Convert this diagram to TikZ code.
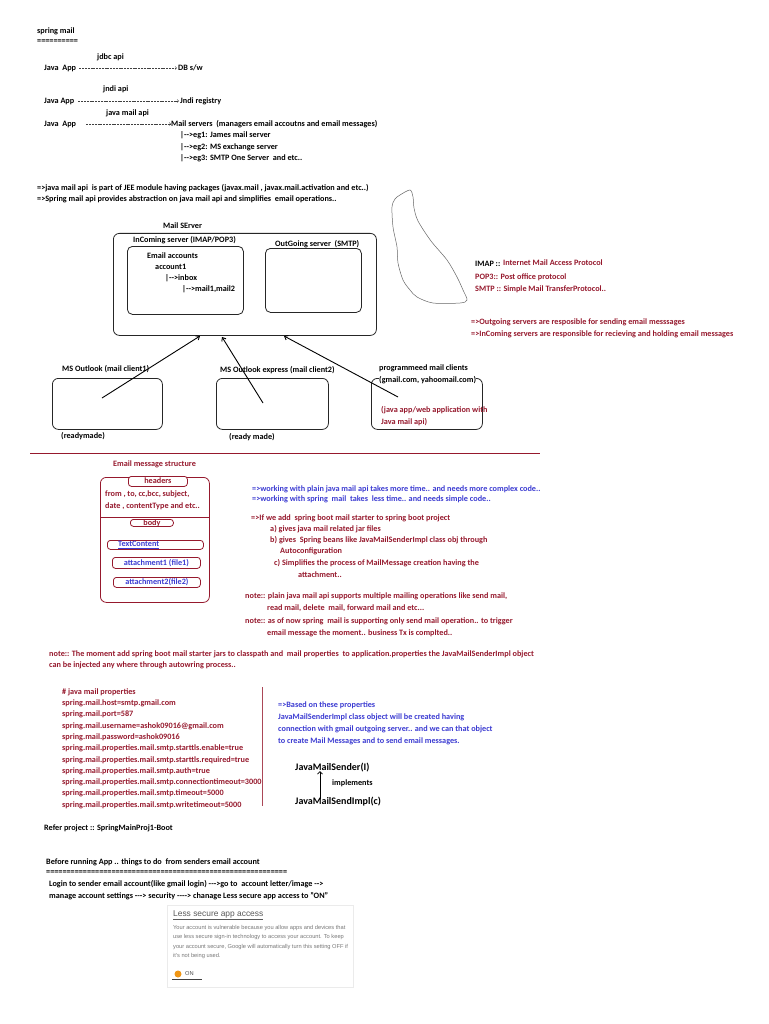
\documentclass[tikz,border=0pt]{standalone}
\usepackage{fontspec}
\setmainfont{Carlito}
\newfontfamily\uifont{Liberation Sans}
\usetikzlibrary{arrows.meta}
\definecolor{mred}{RGB}{150,25,45}
\definecolor{mblue}{RGB}{60,60,210}
\definecolor{mgray}{RGB}{120,120,120}
\definecolor{morange}{RGB}{240,150,20}
\begin{document}
\begin{tikzpicture}[x=1pt,y=-1pt,
  t/.style={anchor=west,inner sep=0pt,text height=6pt,text depth=1.8pt,font=\fontsize{8.2}{9}\selectfont\bfseries,text=black},
  r/.style={t,text=mred},
  b/.style={t,text=mblue},
  pr/.style={r},
  bp/.style={b},
  big/.style={t,font=\fontsize{10}{11}\selectfont\bfseries},
  box/.style={draw=black!85,line width=0.8pt,rounded corners=6pt,anchor=north west,inner sep=0pt},
  rbox/.style={draw=mred,line width=0.8pt,rounded corners=3pt,anchor=north west,inner sep=0pt,fill=white},
  dl/.style={draw=black!75,line width=0.45pt,dash pattern=on 2pt off 0.8pt,-{Straight Barb[length=1.6pt,width=3pt]}},
  arr/.style={draw=black,line width=0.9pt,-{Straight Barb[length=3pt,width=5pt]}},
  ui/.style={anchor=west,inner sep=0pt,font=\uifont\fontsize{5.7}{6}\selectfont,text=mgray}
]
\useasboundingbox (0,0) rectangle (768,1024);
\fill[white] (0,0) rectangle (768,1024);

% ---- top section
\node[t] (title) at (37,31) {spring mail};
\node[t] (titleu) at (37,41) {==========};
\node[t] (jdbc) at (97,57) {jdbc api};
\node[t] (ja1) at (44,68) {Java\ \ App};
\node[t] (db) at (178,68) {DB s/w};
\draw[dl] ([xshift=3pt]ja1.east) -- ([xshift=-1pt]ja1.east -| db.west);
\node[t] (jndi) at (103,89) {jndi api};
\node[t] (ja2) at (44,101) {Java App};
\node[t] (jr) at (180,101) {Jndi registry};
\draw[dl] ([xshift=4pt]ja2.east) -- ([xshift=-1pt]ja2.east -| jr.west);
\node[t] (jm) at (106,113) {java mail api};
\node[t] (ja3) at (44,124) {Java\ \ App};
\node[t] (ms) at (171,124) {Mail servers\ \ (managers email accoutns and email messages)};
\draw[dl] ([xshift=10pt]ja3.east) -- (ja3.east -| ms.west);
\node[t] (eg1) at (180,135) {|-{}->eg1: James mail server};
\node[t] (eg2) at (180,147) {|-{}->eg2: MS exchange server};
\node[t] (eg3) at (180,158) {|-{}->eg3: SMTP One Server\ \ and etc..};

\node[t] (p1) at (37,188) {=>java mail api\ \ is part of JEE module having packages (javax.mail , javax.mail.activation and etc..)};
\node[t] (p2) at (37,199) {=>Spring mail api provides abstraction on java mail api and simplifies\ \ email operations..};

% ---- mail server
\node[t] (mslabel) at (163,226) {Mail SErver};
\node[box,minimum width=263pt,minimum height=102pt] (server) at (113,233) {};
\node[t] (inl) at (133,240) {InComing server (IMAP/POP3)};
\node[box,minimum width=116pt,minimum height=68pt,rounded corners=5pt] (inbox) at (127,246) {};
\node[t] (ea) at (147,256) {Email accounts};
\node[t] (ac1) at (155,267) {account1};
\node[t] (ibx) at (165,278) {|-{}->inbox};
\node[t] (mls) at (182,289) {|-{}->mail1,mail2};
\node[t] (outl) at (275,244) {OutGoing server\ \ (SMTP)};
\node[box,minimum width=96pt,minimum height=64pt,rounded corners=5pt] (outbox) at (265,248) {};

% ---- blob
\draw[black!60,line width=0.5pt] plot[smooth cycle,tension=0.5] coordinates {(400,195) (410,190) (413,197) (414,208) (418,221) (431,241) (447,260) (457,277) (463,290) (467,300) (460,303) (433,303) (417,297) (410,290) (403,280) (398,263) (397,247) (393,227) (392,207) (395,199)};

\node[t] (imap) at (475,264) {IMAP ::};
\node[r] (imapd) at (503,263) {Internet Mail Access Protocol};
\node[r] (pop) at (475,277) {POP3:: Post office protocol};
\node[r] (smtp) at (475,289) {SMTP :: Simple Mail TransferProtocol..};
\node[r] (og) at (471,322) {=>Outgoing servers are resposible for sending email messsages};
\node[r] (ic) at (471,334) {=>InComing servers are responsible for recieving and holding email messages};

% ---- clients
\node[t] (c1l) at (62,369) {MS Outlook (mail client1)};
\node[box,minimum width=110pt,minimum height=51pt] (c1) at (52,378) {};
\node[t] (c1r) at (61,436) {(readymade)};
\node[t] (c2l) at (220,370) {MS Outlook express (mail client2)};
\node[box,minimum width=112pt,minimum height=51pt] (c2) at (216,378) {};
\node[t] (c2r) at (229,437) {(ready made)};
\node[t] (c3l) at (379,368) {programmeed mail clients};
\node[box,minimum width=111pt,minimum height=51pt] (c3) at (371,378) {};
\node[t,fill=white] (c3g) at (379,380) {(gmail.com, yahoomail.com)};
\node[r] (c3a) at (381,410) {(java app/web application with};
\node[r] (c3b) at (381,422) {Java mail api)};

\coordinate (s1) at (102,398);
\coordinate (s2) at (263,403);
\coordinate (s3) at (398,397);
\coordinate (e1) at (200,336);
\coordinate (e2) at (222,337);
\coordinate (e3) at (284,336);
\draw[arr] (s1) -- (e1);
\draw[arr] (s2) -- (e2);
\draw[arr] (s3) -- (e3);

\draw[mred,line width=0.9pt] (30,453) -- (540,453);

% ---- email message structure
\node[r] (emsl) at (113,464) {Email message structure};
\node[rbox,rounded corners=6pt,fill=none,minimum width=109pt,minimum height=125pt] (msg) at (100,477) {};
\node[rbox,minimum width=59pt,minimum height=10pt] (hdr) at (128,476) {};
\node[r,anchor=center] (hdrt) at (hdr.center) {headers};
\node[r] (hf1) at (105,494) {from , to, cc,bcc, subject,};
\node[r] (hf2) at (105,506) {date , contentType and etc..};
\draw[mred,line width=0.8pt] (msg.west |- 0,517) -- (msg.east |- 0,517);
\node[rbox,minimum width=43pt,minimum height=7pt] (bdy) at (130,519) {};
\node[r,anchor=center] (bdyt) at (bdy.center) {body};
\node[rbox,minimum width=96pt,minimum height=9pt] (tc) at (107,540) {};
\node[b] (tct) at (118,544.5) {\underline{TextContent}};
\node[rbox,minimum width=88pt,minimum height=11pt] (at1) at (112,557) {};
\node[b,anchor=center] (at1t) at (at1.center) {attachment1 (file1)};
\node[rbox,minimum width=87pt,minimum height=10pt] (at2) at (113,577) {};
\node[b,anchor=center] (at2t) at (at2.center) {attachment2(file2)};

% ---- right notes
\node[b] (w1) at (252,489) {=>working with plain java mail api takes more time.. and needs more complex code..};
\node[b] (w2) at (252,499) {=>working with spring\ \ mail\ \ takes\ \ less time.. and needs simple code..};
\node[r] (sb) at (251,518) {=>If we add\ \ spring boot mail starter to spring boot project};
\node[r] (sba) at (270,529) {a) gives java mail related jar files};
\node[r] (sbb) at (270,540) {b) gives\ \ Spring beans like JavaMailSenderImpl class obj through};
\node[r] (sbb2) at (280,551) {Autoconfiguration};
\node[r] (sbc) at (274,563) {c) Simplifies the process of MailMessage creation having the};
\node[r] (sbc2) at (298,575) {attachment..};
\node[r] (n1) at (245,596) {note:: plain java mail api supports multiple mailing operations like send mail,};
\node[r] (n1b) at (267,608) {read mail, delete\ \ mail, forward mail and etc...};
\node[r] (n2) at (245,621) {note:: as of now spring\ \ mail is supporting only send mail operation.. to trigger};
\node[r] (n2b) at (267,633) {email message the moment.. business Tx is complted..};
\node[r] (n3) at (49,654) {note:: The moment add spring boot mail starter jars to classpath and\ \ mail properties\ \ to application.properties the JavaMailSenderImpl object};
\node[r] (n3b) at (49,665) {can be injected any where through autowring process..};

% ---- properties
\node[pr] (pr0) at (62,692) {\# java mail properties};
\node[pr] (pr1) at (62,703) {spring.mail.host=smtp.gmail.com};
\node[pr] (pr2) at (62,714) {spring.mail.port=587};
\node[pr] (pr3) at (62,726) {spring.mail.username=ashok09016@gmail.com};
\node[pr] (pr4) at (62,737) {spring.mail.password=ashok09016};
\node[pr] (pr5) at (62,748) {spring.mail.properties.mail.smtp.starttls.enable=true};
\node[pr] (pr6) at (62,760) {spring.mail.properties.mail.smtp.starttls.required=true};
\node[pr] (pr7) at (62,771) {spring.mail.properties.mail.smtp.auth=true};
\node[pr] (pr8) at (62,782) {spring.mail.properties.mail.smtp.connectiontimeout=3000};
\node[pr] (pr9) at (62,793) {spring.mail.properties.mail.smtp.timeout=5000};
\node[pr] (pr10) at (62,805) {spring.mail.properties.mail.smtp.writetimeout=5000};
\draw[mred!80,line width=0.8pt] (262,687) -- (262,806);

\node[bp] (bp1) at (278,705) {=>Based on these properties};
\node[bp] (bp2) at (278,717) {JavaMailSenderImpl class object will be created having};
\node[bp] (bp3) at (278,729) {connection with gmail outgoing server.. and we can that object};
\node[bp] (bp4) at (278,741) {to create Mail Messages and to send email messages.};
\node[big] (sender) at (295,768) {JavaMailSender(I)};
\node[big] (impl) at (295,802) {JavaMailSendImpl(c)};
\draw[draw=black,line width=0.8pt,-{Straight Barb[length=2.5pt,width=5pt]}] ([xshift=25pt,yshift=-1pt]impl.north west) -- ([xshift=25pt,yshift=1pt]sender.south west);
\node[t] (impt) at (332,783) {implements};

% ---- bottom
\node[t] (ref) at (44,828) {Refer project :: SpringMainProj1-Boot};
\node[t] (bra) at (46,862) {Before running App .. things to do\ \ from senders email account};
\node[t] (brau) at (46,872) {===========================================================};
\node[t] (lg1) at (49,884) {Login to sender email account(like gmail login) -{}-{}->go to\ \ account letter/image -{}->};
\node[t] (lg2) at (49,896) {manage account settings -{}-{}-> security -{}-{}-{}-> chanage Less secure app access to "ON"};

% ---- screenshot panel
\node[draw=black!8,line width=0.6pt,anchor=north west,inner sep=0pt,minimum width=186pt,minimum height=82pt] (panel) at (167,905) {};
\node[anchor=west,inner sep=0pt,font=\uifont\fontsize{8.4}{9}\selectfont,text=black!65] (lsa) at (173,915) {\underline{Less secure app access}};
\node[ui] (u1) at (173,928) {Your account is vulnerable because you allow apps and devices that};
\node[ui] (u2) at (173,937.5) {use less secure sign-in technology to access your account. To keep};
\node[ui] (u3) at (173,947) {your account secure, Google will automatically turn this setting OFF if};
\node[ui] (u4) at (173,956.5) {it's not being used.};
\node[circle,fill=morange,inner sep=0pt,minimum size=7pt] (tog) at (178,974) {};
\node[ui,text=black!70] (on) at (185,974) {ON};
\draw[black!75,line width=0.9pt] ([xshift=-3pt]tog.south west) ++(0,2.5) -- ++(30,0);
\end{tikzpicture}
\end{document}
